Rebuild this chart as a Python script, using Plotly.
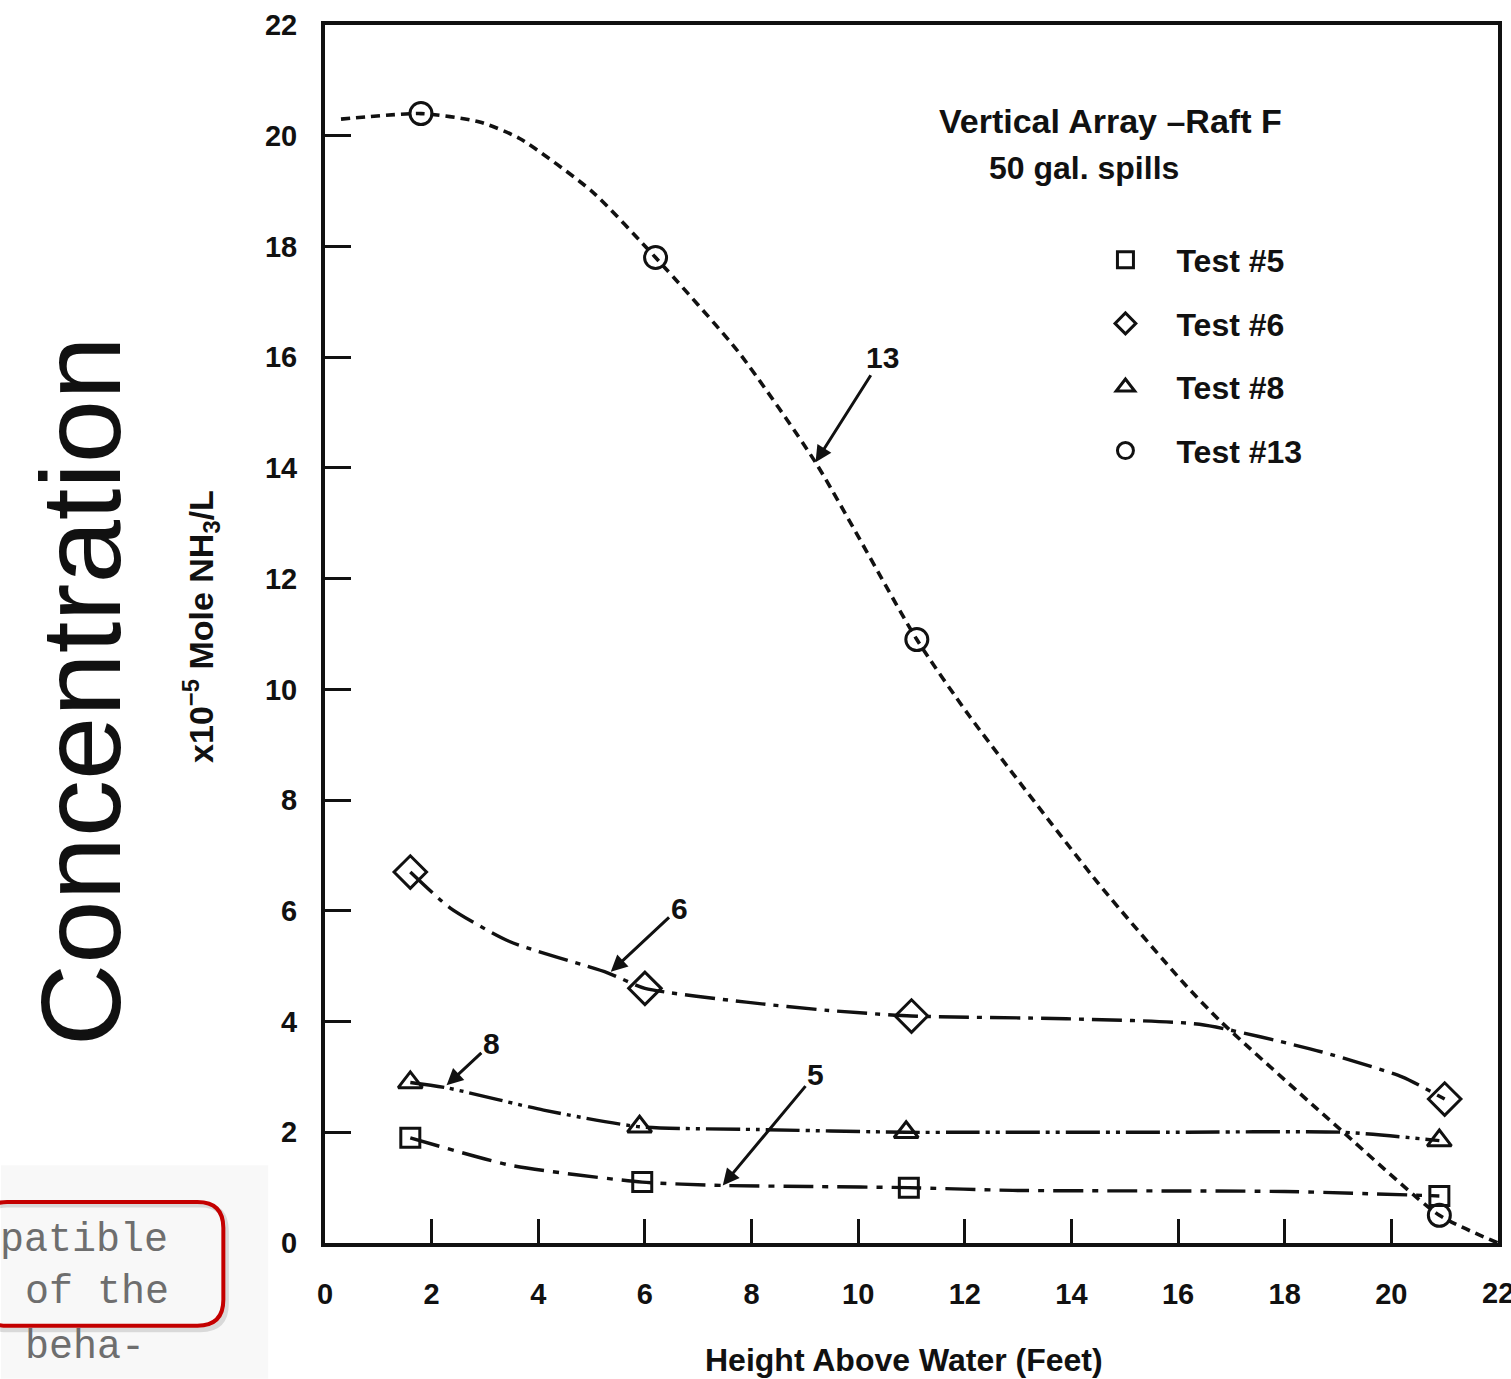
import plotly.graph_objects as go

# Measured NH3 concentrations (x10^-5 mole NH3/L) vs. height above water (ft)
test5_height = [1.6, 5.95, 10.95, 20.9]
test5_conc = [1.9, 1.1, 1.0, 0.85]
test6_height = [1.6, 6.0, 11.0, 21.0]
test6_conc = [6.7, 4.6, 4.1, 2.6]
test8_height = [1.6, 5.9, 10.9, 20.9]
test8_conc = [2.9, 2.1, 2.0, 1.85]
test13_height = [1.8, 6.2, 11.1, 20.9]
test13_conc = [20.4, 17.8, 10.9, 0.5]

# Hand-faired curves drawn through each test's points
curve5_height = [1.6, 3.5, 5.95, 7.45, 9.1, 10.95, 12.9, 18.0, 20.9]
curve5_conc = [1.9, 1.4, 1.1, 1.04, 1.02, 1.0, 0.95, 0.93, 0.85]
curve6_height = [1.6, 2.35, 3.45, 5.3, 6.0, 7.9, 9.45, 11.0, 13.9, 16.4, 18.7, 20.2, 21.0]
curve6_conc = [6.7, 6.05, 5.45, 4.88, 4.6, 4.35, 4.2, 4.1, 4.05, 3.95, 3.45, 3.0, 2.6]
curve8_height = [1.6, 2.3, 4.1, 5.9, 8.1, 10.9, 12.2, 15.8, 19.1, 20.9]
curve8_conc = [2.9, 2.8, 2.4, 2.1, 2.05, 2.0, 2.0, 2.0, 2.0, 1.85]
curve13_height = [0.3, 1.8, 2.9, 3.65, 5.0, 6.2, 7.75, 9.2, 11.1, 12.1, 14.5, 16.1, 16.8, 19.1, 20.9, 22.0]
curve13_conc = [20.3, 20.4, 20.25, 19.95, 19.0, 17.8, 16.1, 14.1, 10.9, 9.5, 6.5, 4.7, 4.0, 2.0, 0.5, 0.0]

series_names = ["Test #5", "Test #6", "Test #8", "Test #13"]
x_ticks = list(range(0, 23, 2))
y_ticks = list(range(0, 23, 2))

FONT = "Liberation Sans, Arial, sans-serif"
INK = "#111111"

fig = go.Figure()

curves = [
    (curve5_height, curve5_conc, "30px,9px,6px,9px", 3.4),
    (curve6_height, curve6_conc, "30px,8px,5px,8px", 3.4),
    (curve8_height, curve8_conc, "34px,6px,4px,6px,4px,6px", 3.4),
    (curve13_height, curve13_conc, "9px,6px", 3.6),
]
for cx, cy, dash, lw in curves:
    fig.add_trace(go.Scatter(
        x=cx, y=cy, mode="lines", showlegend=False, hoverinfo="skip",
        line=dict(color=INK, width=lw, dash=dash, shape="spline", smoothing=0.6),
    ))

points = [
    (test5_height, test5_conc, "square-open", 19),
    (test6_height, test6_conc, "diamond-open", 25),
    (test8_height, test8_conc, "triangle-up-open", 21),
    (test13_height, test13_conc, "circle-open", 22),
]
for name, (px, py, sym, sz) in zip(series_names, points):
    fig.add_trace(go.Scatter(
        x=px, y=py, mode="markers", name=name, legendgroup=name,
        marker=dict(symbol=sym, size=sz, color=INK, line=dict(width=3, color=INK)),
    ))

axis_common = dict(
    range=[0, 22], showgrid=False, zeroline=False,
    showline=True, linecolor=INK, linewidth=4, mirror=True,
    ticks="inside", tickcolor=INK, tickwidth=3,
    tickfont=dict(family=FONT, size=29, color=INK, weight="bold"),
)
fig.update_xaxes(**axis_common, tickvals=x_ticks, ticklen=24, ticklabelstandoff=22)
fig.update_yaxes(**axis_common, tickvals=y_ticks, ticklen=26, ticklabelstandoff=18)

W, H = 1511, 1379
ML, MR, MT, MB = 325, 9, 22, 136
pw, ph = W - ML - MR, H - MT - MB


def px_x(p):
    return (p - ML) / pw


def px_y(p):
    return (H - MB - p) / ph


annotations = [
    dict(text="Vertical Array –Raft F", x=px_x(1113), y=px_y(118), xref="paper", yref="paper",
         showarrow=False, font=dict(family=FONT, size=34, color=INK, weight="bold"),
         xanchor="center", yanchor="middle"),
    dict(text="50 gal. spills", x=px_x(1087), y=px_y(165), xref="paper", yref="paper",
         showarrow=False, font=dict(family=FONT, size=32, color=INK, weight="bold"),
         xanchor="center", yanchor="middle"),
    dict(text="Height Above Water (Feet)", x=px_x(906), y=px_y(1360), xref="paper", yref="paper",
         showarrow=False, font=dict(family=FONT, size=32, color=INK, weight="bold"),
         xanchor="center", yanchor="middle"),
    # the last x tick label runs off the right edge of the page
    dict(text="22", x=22, y=px_y(1293), xref="x", yref="paper", showarrow=False,
         font=dict(family=FONT, size=29, color=INK, weight="bold"),
         xanchor="center", yanchor="middle"),
    dict(text="x10<sup>−5</sup> Mole NH<sub>3</sub>/L", x=px_x(200), y=px_y(625),
         xref="paper", yref="paper", showarrow=False, textangle=-90,
         font=dict(family=FONT, size=34, color=INK, weight="bold"),
         xanchor="center", yanchor="middle"),
    dict(text="Concentration", x=px_x(80), y=px_y(690), xref="paper", yref="paper",
         showarrow=False, textangle=-90,
         font=dict(family=FONT, size=114, color="#111111"),
         xanchor="center", yanchor="middle"),
]

# Arrow call-outs naming each curve
callouts = [
    ("13", 9.2, 14.1, 10.45, 16.0),
    ("6", 5.36, 4.9, 6.64, 6.05),
    ("8", 2.28, 2.85, 3.12, 3.6),
    ("5", 7.46, 1.04, 9.2, 3.05),
]
for label, tx, ty, lx, ly in callouts:
    annotations.append(dict(
        text=label, x=tx, y=ty, ax=lx, ay=ly, xref="x", yref="y", axref="x", ayref="y",
        showarrow=True, arrowhead=2, arrowsize=1.1, arrowwidth=3, arrowcolor=INK,
        font=dict(family=FONT, size=30, color=INK, weight="bold"),
    ))

# Clipped text from the surrounding page, in a rounded red frame
mono = dict(family="Liberation Mono, Courier New, monospace", size=40, color="#6e6e6e")
annotations += [
    dict(text="patible", x=px_x(-3), y=px_y(1240), xref="paper", yref="paper", showarrow=False,
         font=mono, xanchor="left", yanchor="middle"),
    dict(text="of the", x=px_x(22), y=px_y(1293), xref="paper", yref="paper", showarrow=False,
         font=mono, xanchor="left", yanchor="middle"),
    dict(text="beha-", x=px_x(22), y=px_y(1348), xref="paper", yref="paper", showarrow=False,
         font=mono, xanchor="left", yanchor="middle"),
]


def rounded_rect(x0, y0, x1, y1, r):
    return (f"M {px_x(x0)},{px_y(y0 + r)} L {px_x(x0)},{px_y(y1 - r)} "
            f"Q {px_x(x0)},{px_y(y1)} {px_x(x0 + r)},{px_y(y1)} "
            f"L {px_x(x1 - r)},{px_y(y1)} "
            f"Q {px_x(x1)},{px_y(y1)} {px_x(x1)},{px_y(y1 - r)} "
            f"L {px_x(x1)},{px_y(y0 + r)} "
            f"Q {px_x(x1)},{px_y(y0)} {px_x(x1 - r)},{px_y(y0)} "
            f"L {px_x(x0 + r)},{px_y(y0)} "
            f"Q {px_x(x0)},{px_y(y0)} {px_x(x0)},{px_y(y0 + r)} Z")


shapes = [
    dict(type="rect", xref="paper", yref="paper", x0=px_x(0), x1=px_x(268),
         y0=px_y(H), y1=px_y(1165), fillcolor="#f8f8f8", line=dict(width=0), layer="below"),
    dict(type="path", xref="paper", yref="paper", path=rounded_rect(-20, 1205, 226, 1330, 26),
         line=dict(color="rgba(0,0,0,0.12)", width=5)),
    dict(type="path", xref="paper", yref="paper", path=rounded_rect(-20, 1202, 223, 1326, 26),
         line=dict(color="#c40000", width=4)),
]

fig.update_layout(
    width=W, height=H,
    margin=dict(l=ML, r=MR, t=MT, b=MB),
    paper_bgcolor="white", plot_bgcolor="white",
    annotations=annotations, shapes=shapes,
    legend=dict(
        x=px_x(1077), y=px_y(230), xanchor="left", yanchor="top",
        font=dict(family=FONT, size=32, color=INK, weight="bold"),
        bgcolor="rgba(0,0,0,0)", tracegroupgap=19, itemwidth=92,
    ),
)

fig.write_html("out.html")
